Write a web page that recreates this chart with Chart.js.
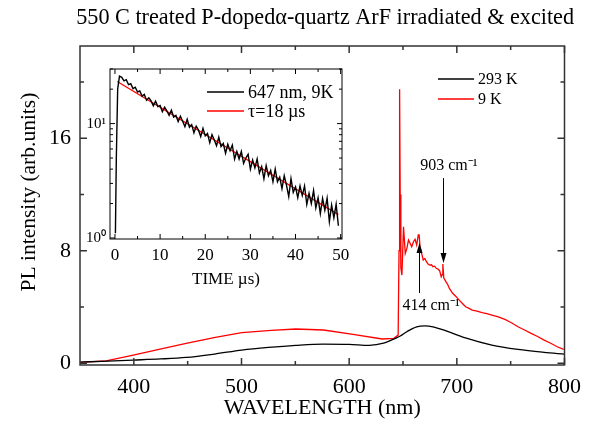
<!DOCTYPE html>
<html><head><meta charset="utf-8">
<script src="https://cdn.jsdelivr.net/npm/chart.js@4.4.1/dist/chart.umd.min.js"></script>
<style>
html,body{margin:0;padding:0;background:#fff;}
#wrap{position:relative;width:590px;height:423px;overflow:hidden;}
#main{position:absolute;left:0;top:0;}
#inset{position:absolute;left:60px;top:55px;}
</style></head><body>
<div id="wrap"><canvas id="main" width="590" height="423"></canvas><canvas id="inset" width="300" height="240"></canvas></div>
<script>
// ---------- DATA ----------
const chartTitle = '550 C treated P-dopedα-quartz ArF irradiated & excited';
const xAxisTitle = 'WAVELENGTH (nm)';
const yAxisTitle = 'PL intensity (arb.units)';
const xTickValues = [400, 500, 600, 700, 800];
const xMinorValues = [450, 550, 650, 750];
const yTickValues = [0, 8, 16];
const yMinorValues = [4, 12, 20];
const seriesNames = ['293 K', '9 K'];

const wl293 = [350, 376, 399.5, 425, 448.6, 475, 500.3, 525, 550.4, 576, 600, 618.7, 632, 643, 647.5, 653.6, 662.7, 670.3, 677.9, 690, 708, 732.5, 756.8, 781, 800];
const pl293 = [0.08, 0.15, 0.22, 0.3, 0.41, 0.65, 0.93, 1.12, 1.27, 1.36, 1.34, 1.27, 1.42, 1.77, 1.93, 2.24, 2.59, 2.66, 2.59, 2.3, 1.8, 1.29, 0.98, 0.77, 0.64];

const wl9 = [350, 374.3, 399.5, 424.4, 448.6, 474.5, 500.3, 527.6, 550.4, 576.2, 603.5, 630.8, 641.5, 645.5, 646.3, 646.7, 647.0, 647.4, 648.0, 649.0, 650.5, 652.1, 653.6, 655.1, 656.6, 658.1, 659.7, 661.2, 662.7, 664.2, 665.0, 665.8, 667.3, 668.8, 670.3, 671.8, 673.3, 674.9, 676.4, 677.9, 679.4, 680.9, 682.4, 684.0, 685.5, 686.4, 687.0, 687.9, 690.0, 691.5, 693.1, 696.1, 699.2, 702.2, 705.2, 708.2, 711.3, 714.3, 718.8, 723.4, 727.9, 732.5, 738.5, 744.6, 750.7, 756.8, 762.9, 769.0, 775.0, 781.1, 787.2, 793.2, 799.3];
const pl9 = [0.06, 0.17, 0.58, 1.0, 1.41, 1.81, 2.17, 2.33, 2.43, 2.36, 2.05, 1.72, 1.77, 2.0, 8.0, 17.0, 19.5, 12.0, 6.8, 6.27, 9.71, 7.81, 8.17, 8.76, 8.53, 8.28, 8.64, 8.81, 8.41, 9.12, 9.12, 8.28, 7.81, 7.34, 7.45, 7.22, 7.05, 6.98, 7.0, 6.86, 6.9, 6.75, 6.7, 6.58, 6.15, 6.3, 7.05, 6.06, 5.79, 5.6, 5.32, 4.97, 4.75, 4.49, 4.25, 4.01, 3.9, 3.78, 3.7, 3.59, 3.52, 3.42, 3.3, 3.12, 2.88, 2.59, 2.36, 2.12, 1.9, 1.64, 1.42, 1.17, 0.98];

// inset: decay at 647 nm, 9 K
const insetXTitle = 'TIME µs)';
const insetXTicks = [0, 10, 20, 30, 40, 50];
const insetXMinor = [5, 15, 25, 35, 45];
const insetYTicks = [1, 10];
const insetYTickLabels = ['10⁰', '10¹'];
const insetYMinor = [2, 3, 4, 5, 6, 7, 8, 9, 20, 30];
const insetNames = ['647 nm, 9K', 'τ=18 µs'];
const decayTime = [0.1, 0.3, 0.6, 1.0, 1.5, 2.0, 2.5, 3.0, 3.5, 4.0, 4.5, 5.0, 5.5, 6.0, 6.5, 7.0, 7.5, 8.0, 8.5, 9.0, 9.5, 10.0, 10.5, 11.0, 11.5, 12.0, 12.5, 13.0, 13.5, 14.0, 14.5, 15.0, 15.5, 16.0, 16.5, 17.0, 17.5, 18.0, 18.5, 19.0, 19.5, 20.0, 20.5, 21.0, 21.5, 22.0, 22.5, 23.0, 23.5, 24.0, 24.5, 25.0, 25.5, 26.0, 26.5, 27.0, 27.5, 28.0, 28.5, 29.0, 29.5, 30.0, 30.5, 31.0, 31.5, 32.0, 32.5, 33.0, 33.5, 34.0, 34.5, 35.0, 35.5, 36.0, 36.5, 37.0, 37.5, 38.0, 38.5, 39.0, 39.5, 40.0, 40.5, 41.0, 41.5, 42.0, 42.5, 43.0, 43.5, 44.0, 44.5, 45.0, 45.5, 46.0, 46.5, 47.0, 47.5, 48.0, 48.5, 49.0, 49.5];
const decayCounts = [1.1, 5.0, 20.0, 26.0, 25.4, 23.6, 24.2, 21.9, 22.3, 20.2, 20.8, 18.9, 19.3, 17.4, 18.0, 16.0, 16.8, 15.8, 14.3, 15.7, 14.1, 14.4, 12.7, 13.9, 12.9, 11.8, 13.1, 11.4, 11.8, 10.4, 11.6, 10.5, 9.4, 10.9, 9.3, 9.8, 8.3, 9.5, 8.8, 7.7, 9.1, 7.8, 8.2, 6.8, 8.0, 7.2, 6.4, 7.6, 6.3, 6.7, 5.5, 6.6, 5.8, 6.5, 4.9, 5.7, 4.9, 5.7, 4.5, 5.0, 5.4, 4.0, 4.8, 4.1, 4.9, 3.7, 4.2, 3.3, 4.3, 3.5, 3.9, 3.1, 4.0, 3.1, 3.4, 2.7, 3.5, 2.9, 2.3, 3.3, 2.5, 2.8, 2.25, 2.85, 2.35, 2.85, 1.97, 2.46, 2.0, 2.6, 1.83, 2.24, 1.63, 2.22, 1.75, 2.23, 1.39, 1.94, 1.5, 1.97, 1.28];
const fitTime = [0.5, 49.5];
const fitCounts = [23.3, 1.6];

// peak labels on the 9 K spectrum
const peakNotes = [
  {text: '414 cm⁻¹', at: 665.1, tail: 4.99, tip: 8.55, textAt: 649.5, textLevel: 4.1},
  {text: '903 cm⁻¹', at: 687.0, tail: 13.17, tip: 7.12, textAt: 666.0, textLevel: 14.03}
];

// ---------- helpers ----------
const SERIF = "'Liberation Serif', 'Times New Roman', serif";
const toXY = (xs, ys) => xs.map((x, i) => ({x, y: ys[i]}));

const frameTicks = {
  id: 'frameTicks',
  afterDatasetsDraw(chart, args, o) {
    const {ctx, chartArea: a, scales} = chart;
    const xs = scales.x, ys = scales.y;
    ctx.save();
    ctx.strokeStyle = o.color; ctx.lineWidth = o.width;
    ctx.beginPath();
    const xt = (v, len) => { const p = xs.getPixelForValue(v); ctx.moveTo(p, a.bottom); ctx.lineTo(p, a.bottom - len); ctx.moveTo(p, a.top); ctx.lineTo(p, a.top + len); };
    const yt = (v, len) => { const p = ys.getPixelForValue(v); ctx.moveTo(a.left, p); ctx.lineTo(a.left + len, p); ctx.moveTo(a.right, p); ctx.lineTo(a.right - len, p); };
    o.xMajor.forEach(v => xt(v, o.major)); o.xMinor.forEach(v => xt(v, o.minor));
    o.yMajor.forEach(v => yt(v, o.major)); o.yMinor.forEach(v => yt(v, o.minor));
    ctx.stroke();
    ctx.strokeRect(a.left, a.top, a.right - a.left, a.bottom - a.top);
    ctx.restore();
  }
};

const miniLegend = {
  id: 'miniLegend',
  afterDraw(chart, args, o) {
    const {ctx} = chart;
    ctx.save();
    ctx.font = o.font; ctx.textBaseline = 'middle'; ctx.textAlign = 'left';
    chart.data.datasets.forEach((ds, i) => {
      const y = o.y + i * o.gap;
      ctx.strokeStyle = ds.borderColor; ctx.lineWidth = 1.3;
      ctx.beginPath(); ctx.moveTo(o.x, y); ctx.lineTo(o.x + o.lineLen, y); ctx.stroke();
      ctx.fillStyle = '#000';
      ctx.fillText(ds.label, o.x + o.lineLen + 4, y + 1);
    });
    ctx.restore();
  }
};

const peakArrows = {
  id: 'peakArrows',
  afterDraw(chart, args, o) {
    if (!o.notes) return;
    const {ctx, scales: {x, y}} = chart;
    ctx.save();
    ctx.strokeStyle = '#000'; ctx.fillStyle = '#000'; ctx.lineWidth = 1;
    ctx.font = o.font; ctx.textBaseline = 'middle'; ctx.textAlign = 'left';
    o.notes.forEach(n => {
      const px = Math.round(x.getPixelForValue(n.at)) + 0.5;
      const y0 = y.getPixelForValue(n.tail), y1 = y.getPixelForValue(n.tip);
      const dir = y1 < y0 ? 1 : -1;
      ctx.beginPath(); ctx.moveTo(px, y0); ctx.lineTo(px, y1 + dir * 8); ctx.stroke();
      ctx.beginPath(); ctx.moveTo(px, y1); ctx.lineTo(px - 3, y1 + dir * 10); ctx.lineTo(px + 3, y1 + dir * 10); ctx.closePath(); ctx.fill();
      ctx.fillText(n.text, x.getPixelForValue(n.textAt), y.getPixelForValue(n.textLevel));
    });
    ctx.restore();
  }
};

// ---------- MAIN CHART ----------
new Chart(document.getElementById('main'), {
  type: 'line',
  data: {
    datasets: [
      {label: seriesNames[0], data: toXY(wl293, pl293), borderColor: '#000000', borderWidth: 1.3, pointRadius: 0, cubicInterpolationMode: 'monotone'},
      {label: seriesNames[1], data: toXY(wl9, pl9), borderColor: '#ff0000', borderWidth: 1.3, pointRadius: 0, tension: 0}
    ]
  },
  options: {
    responsive: false, animation: false, devicePixelRatio: 1,
    layout: {padding: {left: 0, right: 16, top: 0, bottom: 0}},
    plugins: {
      legend: {display: false}, tooltip: {enabled: false},
      title: {display: true, text: chartTitle, fullSize: true, align: 'end', color: '#000',
        font: {family: SERIF, size: 22.2, weight: 'normal'}, padding: {top: 4.5, bottom: 14.86}},
      frameTicks: {color: '#333', width: 1.5, major: 7, minor: 4,
        xMajor: xTickValues, xMinor: xMinorValues, yMajor: yTickValues, yMinor: yMinorValues},
      miniLegend: {x: 438, y: 79, gap: 20, lineLen: 36, font: '16px ' + SERIF},
      peakArrows: {notes: peakNotes, font: '16px ' + SERIF}
    },
    scales: {
      x: {type: 'linear', min: 350, max: 800,
        afterBuildTicks: s => { s.ticks = xTickValues.map(v => ({value: v})); },
        afterFit: s => { s.height = 58; },
        grid: {display: false, drawTicks: false}, border: {display: false},
        ticks: {color: '#000', padding: 9, maxRotation: 0, font: {family: SERIF, size: 22}},
        title: {display: true, text: xAxisTitle, color: '#000', font: {family: SERIF, size: 22}, padding: {top: 0, bottom: 2}}
      },
      y: {type: 'linear', min: -0.13, max: 22.57,
        afterBuildTicks: s => { s.ticks = yTickValues.map(v => ({value: v})); },
        afterFit: s => { s.width = 80; },
        grid: {display: false, drawTicks: false}, border: {display: false},
        ticks: {color: '#000', padding: 9, font: {family: SERIF, size: 22}},
        title: {display: true, text: '\u00a0\u00a0\u00a0\u00a0\u00a0' + yAxisTitle, color: '#000', font: {family: SERIF, size: 21.5}, padding: {top: 16, bottom: 0}}
      }
    }
  },
  plugins: [frameTicks, miniLegend, peakArrows]
});

// ---------- INSET ----------
new Chart(document.getElementById('inset'), {
  type: 'line',
  data: {
    datasets: [
      {label: insetNames[0], data: toXY(decayTime, decayCounts), borderColor: '#000000', borderWidth: 1.4, pointRadius: 0, tension: 0},
      {label: insetNames[1], data: toXY(fitTime, fitCounts), borderColor: '#ff0000', borderWidth: 1.3, pointRadius: 0, tension: 0}
    ]
  },
  options: {
    responsive: false, animation: false, devicePixelRatio: 1,
    layout: {padding: {left: 0, right: 18, top: 14, bottom: 0}},
    plugins: {
      legend: {display: false}, tooltip: {enabled: false}, title: {display: false},
      frameTicks: {color: '#000', width: 1, major: 5, minor: 3,
        xMajor: insetXTicks, xMinor: insetXMinor, yMajor: insetYTicks, yMinor: insetYMinor},
      miniLegend: {x: 147, y: 37, gap: 19, lineLen: 37, font: '18px ' + SERIF}
    },
    scales: {
      x: {type: 'linear', min: -1.1, max: 50.3,
        afterBuildTicks: s => { s.ticks = insetXTicks.map(v => ({value: v})); },
        afterFit: s => { s.height = 56; },
        grid: {display: false, drawTicks: false}, border: {display: false},
        ticks: {color: '#000', padding: 6, maxRotation: 0, font: {family: SERIF, size: 17}},
        title: {display: true, text: insetXTitle, color: '#000', font: {family: SERIF, size: 17}, padding: {top: 0, bottom: 5}}
      },
      y: {type: 'logarithmic', min: 0.98, max: 30,
        afterBuildTicks: s => { s.ticks = insetYTicks.map(v => ({value: v})); },
        afterFit: s => { s.width = 50; },
        grid: {display: false, drawTicks: false}, border: {display: false},
        ticks: {color: '#000', padding: 4, font: {family: SERIF, size: 15},
          callback: (v) => insetYTickLabels[insetYTicks.indexOf(v)] ?? ''}
      }
    }
  },
  plugins: [frameTicks, miniLegend]
});
</script>
</body></html>
